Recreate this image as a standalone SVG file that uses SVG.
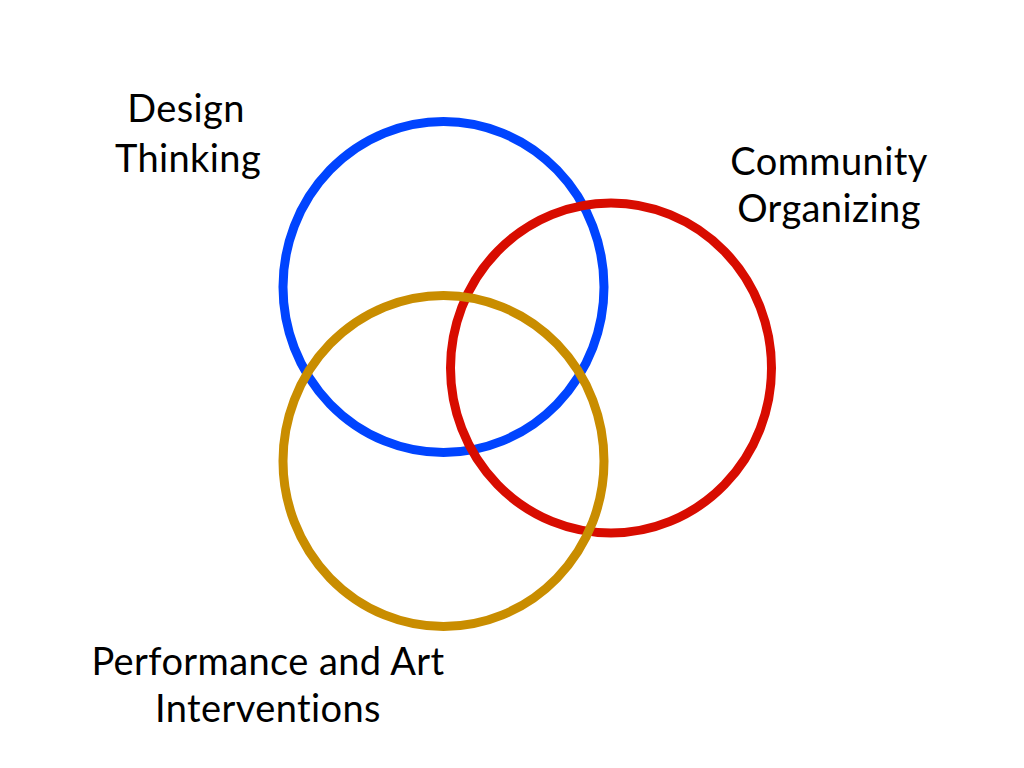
<svg xmlns="http://www.w3.org/2000/svg" width="1024" height="768" viewBox="0 0 1024 768">
<style>
.ring{fill:none;stroke-width:9}
.lbl{font-family:Lato,"Open Sans","Liberation Sans",sans-serif;font-size:38px;letter-spacing:0.4px;fill:#000;text-anchor:middle;font-variant-ligatures:none}
</style>
<rect width="1024" height="768" fill="#fff"/>
<g id="design"><ellipse class="ring" cx="443.5" cy="287" rx="160.5" ry="165.5" stroke="#0044ff"/></g>
<g id="community"><ellipse class="ring" cx="611" cy="368" rx="160.5" ry="165" stroke="#d80c00"/></g>
<g id="performance"><ellipse class="ring" cx="443.5" cy="461" rx="160.5" ry="165.5" stroke="#c98d00"/></g>
<g id="labels">
<text class="lbl" x="186" y="122">Design</text>
<text class="lbl" x="188" y="172">Thinking</text>
<text class="lbl" x="829" y="175">Community</text>
<text class="lbl" x="829" y="222">Organizing</text>
<text class="lbl" x="268" y="675">Performance and Art</text>
<text class="lbl" x="268" y="722">Interventions</text>
</g>
</svg>
